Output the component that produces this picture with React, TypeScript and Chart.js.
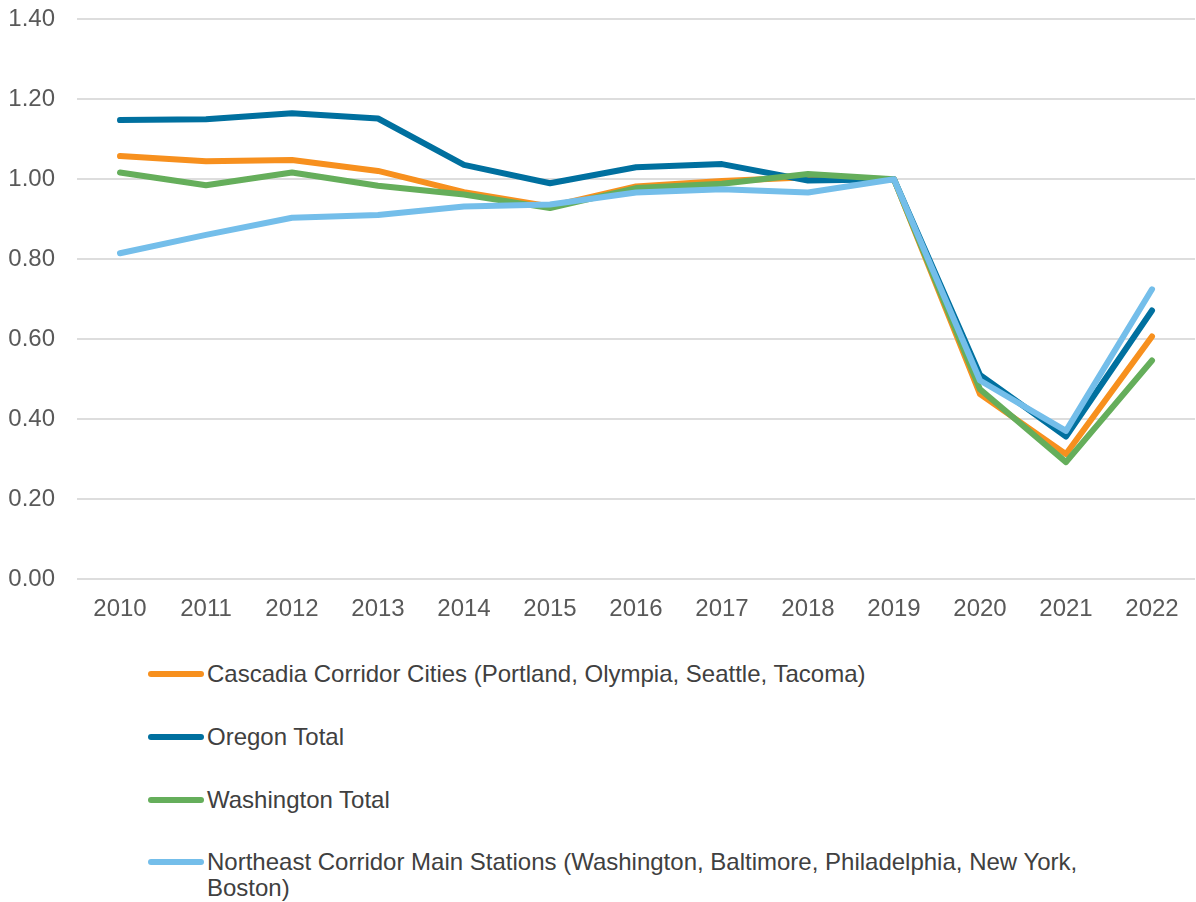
import React, { useEffect, useRef } from "react";
import { Chart, registerables } from "chart.js";

Chart.register(...registerables);

const years = ["2010", "2011", "2012", "2013", "2014", "2015", "2016", "2017", "2018", "2019", "2020", "2021", "2022"];

const cascadia = [1.058, 1.045, 1.048, 1.021, 0.968, 0.932, 0.982, 0.996, 1.005, 1.0, 0.463, 0.313, 0.607];
const oregon = [1.148, 1.15, 1.165, 1.152, 1.036, 0.99, 1.03, 1.038, 0.997, 1.0, 0.511, 0.357, 0.672];
const washington = [1.017, 0.985, 1.017, 0.984, 0.962, 0.928, 0.978, 0.989, 1.013, 1.0, 0.475, 0.293, 0.547];
const northeast = [0.815, 0.861, 0.904, 0.911, 0.932, 0.937, 0.967, 0.975, 0.967, 1.0, 0.497, 0.371, 0.725];

const seriesNames = [
  "Cascadia Corridor Cities (Portland, Olympia, Seattle, Tacoma)",
  "Oregon Total",
  "Washington Total",
  "Northeast Corridor Main Stations (Washington, Baltimore, Philadelphia, New York, Boston)",
];
const seriesColors = ["#F7901E", "#00709F", "#65AE5B", "#74BEEA"];
const seriesData = [cascadia, oregon, washington, northeast];

const legendCenters = [674, 737, 800, 862];

export default function App() {
  const ref = useRef<HTMLCanvasElement>(null);

  useEffect(() => {
    if (!ref.current) return;
    const chart = new Chart(ref.current, {
      type: "line",
      data: {
        labels: years,
        datasets: seriesData.map((d, i) => ({
          label: seriesNames[i],
          data: d,
          borderColor: seriesColors[i],
          backgroundColor: seriesColors[i],
          borderWidth: 6,
          pointRadius: 0,
          tension: 0,
          borderCapStyle: "round" as const,
          borderJoinStyle: "round" as const,
          order: 3 - i,
        })),
      },
      options: {
        responsive: false,
        animation: false,
        layout: { padding: { top: 19.3, right: 1, left: 0, bottom: 0 } },
        plugins: { legend: { display: false }, tooltip: { enabled: false } },
        scales: {
          x: {
            offset: true,
            grid: { display: false },
            border: { display: false },
            ticks: {
              font: { family: "'Liberation Sans', Arial, sans-serif", size: 24 },
              color: "#595959",
              padding: 8,
              maxRotation: 0,
              autoSkip: false,
            },
            afterFit: (scale: any) => {
              scale.height = 60.7;
              scale.paddingLeft = 0;
              scale.paddingRight = 0;
            },
          },
          y: {
            min: 0,
            max: 1.4,
            grid: { color: "#DDDDDD", lineWidth: 2, drawTicks: false },
            border: { display: false },
            ticks: {
              stepSize: 0.2,
              font: { family: "'Liberation Sans', Arial, sans-serif", size: 24 },
              color: "#595959",
              padding: 22,
              callback: (v: any) => Number(v).toFixed(2),
            },
            afterFit: (scale: any) => {
              scale.width = 77;
              scale.paddingTop = 0;
              scale.paddingBottom = 0;
            },
          },
        },
      },
    });
    return () => chart.destroy();
  }, []);

  return (
    <div style={{ position: "absolute", left: 0, top: 0, width: 1196, height: 902, background: "#fff", overflow: "hidden" }}>
      <canvas ref={ref} width={1196} height={640} style={{ position: "absolute", left: 0, top: 0, width: 1196, height: 640 }} />
      {seriesNames.map((name, i) => (
        <React.Fragment key={name}>
          <div
            style={{
              position: "absolute",
              left: 148,
              top: legendCenters[i] - 3,
              width: 56,
              height: 6,
              borderRadius: 3,
              background: seriesColors[i],
            }}
          />
          <div
            style={{
              position: "absolute",
              left: 207,
              top: legendCenters[i] - 13,
              width: 900,
              fontFamily: "'Liberation Sans', Arial, sans-serif",
              fontSize: 24,
              lineHeight: "26px",
              color: "#404040",
            }}
          >
            {name}
          </div>
        </React.Fragment>
      ))}
    </div>
  );
}
